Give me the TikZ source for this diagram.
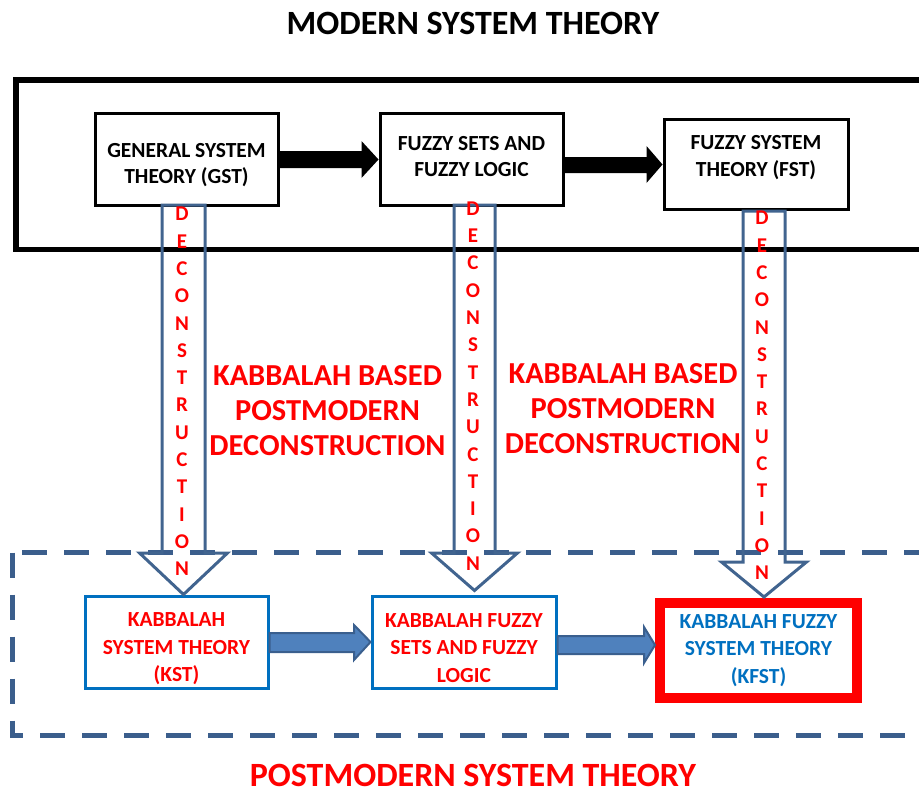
\documentclass[tikz,border=0pt]{standalone}
\usepackage{fontspec}
\setmainfont{Carlito}
\usetikzlibrary{calc}
\definecolor{hollowblue}{HTML}{41648F}
\definecolor{dashblue}{HTML}{3B5E8C}
\definecolor{kblue}{HTML}{0070C0}
\definecolor{arrfill}{HTML}{4F81BD}
\definecolor{arrline}{HTML}{3A5F8E}
\definecolor{kred}{HTML}{FF0000}
\newcommand{\topgap}[1]{\rule{0pt}{#1}}
\tikzset{
  modbox/.style={draw, line width=3pt, minimum width=183pt, minimum height=92pt,
    align=center, inner sep=0pt, font=\bfseries\fontsize{21.5}{26.5}\selectfont},
  kbox/.style={modbox, draw=kblue, text=kred, font=\bfseries\fontsize{21.5}{27.5}\selectfont},
  textup/.style={execute at end node={\rule[-#1]{0pt}{#1}}},
  hollow/.style={draw=hollowblue, line width=3pt, line join=miter},
  bluearrow/.style={fill=arrfill, draw=arrline, line width=2pt},
  decword/.style={text=kred, align=center, inner sep=0pt, anchor=north,
    font=\bfseries\fontsize{21}{27.3}\selectfont},
  redlabel/.style={text=kred, align=center, inner sep=0pt,
    font=\bfseries\fontsize{30.5}{35}\selectfont},
  bigtitle/.style={inner sep=0pt, font=\bfseries\fontsize{34}{38}\selectfont}
}
\begin{document}
\begin{tikzpicture}[x=1pt,y=-1pt]
  \useasboundingbox (0,0) rectangle (919,792);
  \clip (0,0) rectangle (919,792);
  % ------ modern part -------
  \node[bigtitle] (modtitle) at (473,23) {MODERN SYSTEM THEORY};
  \draw[line width=5.5pt] (16,80) rectangle (960,249.5);
  \node[modbox] (gst) at (186.5,159.5) {\topgap{25pt}GENERAL SYSTEM\\THEORY (GST)};
  \node[modbox, textup=6pt] (fsl) at (471.5,159.5) {FUZZY SETS AND\\FUZZY LOGIC};
  \node[modbox, textup=16pt, minimum width=184pt, minimum height=90pt] (fst) at (756,164) {FUZZY SYSTEM\\THEORY (FST)};
  \fill (gst.east |- 0,151) -- ($(fsl.west |- 0,151)+(-17,0)$) -- ($(fsl.west |- 0,141)+(-17,0)$)
     -- (fsl.west) -- ($(fsl.west |- 0,178)+(-17,0)$) -- ($(fsl.west |- 0,168)+(-17,0)$)
     -- (gst.east |- 0,168) -- cycle;
  \fill (fsl.east |- 0,157) -- ($(fst.west |- 0,157)+(-16,0)$) -- ($(fst.west |- 0,146)+(-16,0)$)
     -- (fst.west |- 0,164.5) -- ($(fst.west |- 0,183)+(-16,0)$) -- ($(fst.west |- 0,173)+(-16,0)$)
     -- (fsl.east |- 0,173) -- cycle;
  % ------ postmodern part -------
  \draw[dashblue, line width=5pt, dash pattern=on 25pt off 17pt] (12.5,552.5) rectangle (960,735);
  \node[kbox] (kst) at (176.5,642) {\topgap{27.5pt}KABBALAH\\SYSTEM THEORY\\(KST)};
  \node[kbox, minimum width=184pt] (kfsl) at (464,642) {\topgap{26pt}KABBALAH FUZZY\\SETS AND FUZZY\\LOGIC};
  \node[kbox, draw=kred, line width=10pt, text=kblue, minimum width=197pt, minimum height=95pt] (kfst) at (758.5,650.5) {KABBALAH FUZZY\\SYSTEM THEORY\\(KFST)};
  \node[bigtitle, text=kred] (pmtitle) at (473,775) {POSTMODERN SYSTEM THEORY};
  \draw[bluearrow] (kst.east |- 0,633) -- (354,633) -- (354,625) -- (kfsl.west) -- (354,660) -- (354,652)
     -- (kst.east |- 0,652) -- cycle;
  \draw[bluearrow] (kfsl.east |- 0,636) -- (644,636) -- (644,627) -- (kfst.west |- 0,645) -- (644,663) -- (644,654)
     -- (kfsl.east |- 0,654) -- cycle;
  % ------ deconstruction arrows -------
  \coordinate (t1) at (183.5,205);
  \coordinate (t2) at (474.5,205);
  \coordinate (t3) at (764,211);
  \draw[hollow] ($(t1)+(-21.5,0)$) -- ($(t1)+(-21.5,348)$) -- ($(t1)+(-44,348)$) -- (kst.north -| t1)
     -- ($(t1)+(44,348)$) -- ($(t1)+(21.5,348)$) -- ($(t1)+(21.5,0)$) -- cycle;
  \draw[hollow] ($(t2)+(-20.5,0)$) -- ($(t2)+(-20.5,348)$) -- ($(t2)+(-43,348)$) -- ($(kfsl.north -| t2)+(0,-4)$)
     -- ($(t2)+(43,348)$) -- ($(t2)+(20.5,348)$) -- ($(t2)+(20.5,0)$) -- cycle;
  \draw[hollow] ($(t3)+(-21,0)$) -- ($(t3)+(-21,351)$) -- ($(t3)+(-42.5,351)$) -- ($(kfst.north -| t3)+(0,-1)$)
     -- ($(t3)+(42.5,351)$) -- ($(t3)+(21,351)$) -- ($(t3)+(21,0)$) -- cycle;
  \node[decword] (dec1) at (182,207) {D\\E\\C\\O\\N\\S\\T\\R\\U\\C\\T\\I\\O\\N};
  \node[decword] (dec2) at (473,201.5) {D\\E\\C\\O\\N\\S\\T\\R\\U\\C\\T\\I\\O\\N};
  \node[decword] (dec3) at (762,211) {D\\E\\C\\O\\N\\S\\T\\R\\U\\C\\T\\I\\O\\N};
  % ------ labels -------
  \node[redlabel] (kbd1) at (327.5,411) {KABBALAH BASED\\POSTMODERN\\DECONSTRUCTION};
  \node[redlabel] (kbd2) at (623,409) {KABBALAH BASED\\POSTMODERN\\DECONSTRUCTION};
\end{tikzpicture}
\end{document}
